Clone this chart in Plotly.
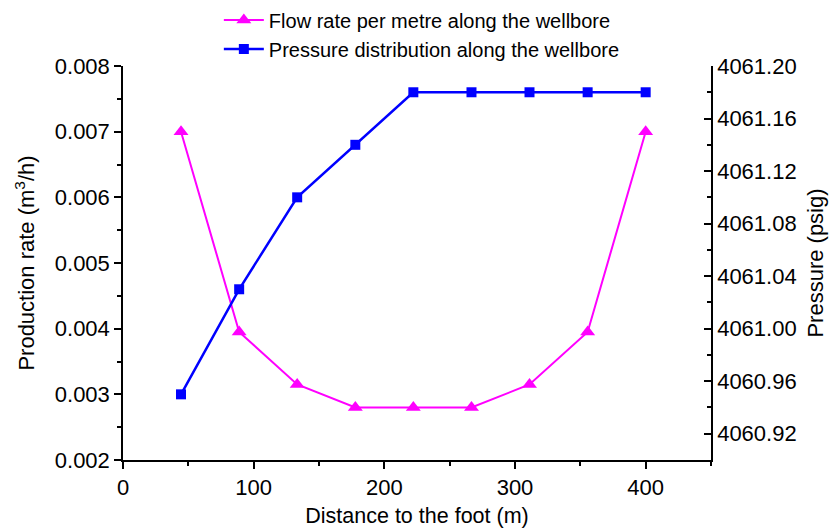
import plotly.graph_objects as go

distance = [44.4, 88.9, 133.3, 177.8, 222.2, 266.7, 311.1, 355.6, 400.0]
flow_rate = [0.0070, 0.00395, 0.00315, 0.0028, 0.0028, 0.0028, 0.00315, 0.00395, 0.0070]
pressure = [4060.95, 4061.03, 4061.10, 4061.14, 4061.18, 4061.18, 4061.18, 4061.18, 4061.18]

x_ticks = [0, 100, 200, 300, 400]
left_ticks = [0.002, 0.003, 0.004, 0.005, 0.006, 0.007, 0.008]
right_ticks = [4060.92, 4060.96, 4061.00, 4061.04, 4061.08, 4061.12, 4061.16, 4061.20]
right_minor = [4060.90, 4060.94, 4060.98, 4061.02, 4061.06, 4061.10, 4061.14, 4061.18]

FONT = "Liberation Sans, Arial, sans-serif"

fig = go.Figure()
fig.add_trace(go.Scatter(
    x=distance, y=flow_rate, name="Flow rate per metre along the wellbore",
    mode="lines+markers",
    line=dict(color="#FF00FF", width=2),
    marker=dict(symbol="triangle-up", size=13, color="#FF00FF"),
    yaxis="y",
))
fig.add_trace(go.Scatter(
    x=distance, y=pressure, name="Pressure distribution along the wellbore",
    mode="lines+markers",
    line=dict(color="#0000FF", width=2.5),
    marker=dict(symbol="square", size=10, color="#0000FF"),
    yaxis="y2",
))

axis_common = dict(
    showline=True, linecolor="black", linewidth=1.5,
    showgrid=False, zeroline=False,
    ticklen=7, tickwidth=1.5, tickcolor="black",
    tickfont=dict(family=FONT, size=22, color="black"),
)

fig.update_layout(
    width=838, height=528,
    margin=dict(l=123, r=127, t=66, b=68, autoexpand=False),
    paper_bgcolor="white", plot_bgcolor="white",
    font=dict(family=FONT, color="black"),
    showlegend=True,
    legend=dict(
        x=0.163, y=1.166, xanchor="left", yanchor="top",
        font=dict(family=FONT, size=20, color="black"),
        bgcolor="rgba(0,0,0,0)", itemwidth=40, tracegroupgap=0,
    ),
    xaxis=dict(
        **axis_common,
        range=[0, 450], tickmode="array", tickvals=x_ticks, ticks="outside",
        minor=dict(tickmode="linear", tick0=0, dtick=50, ticks="outside", ticklen=4, tickcolor="black", tickwidth=1.5),
        title=dict(text="Distance to the foot (m)", font=dict(family=FONT, size=21.5, color="black"), standoff=12),
    ),
    yaxis=dict(
        **axis_common,
        range=[0.002, 0.008], tickmode="array", tickvals=left_ticks, tickformat=".3f", ticks="outside",
        minor=dict(tickmode="linear", tick0=0.0025, dtick=0.001, ticks="outside", ticklen=4, tickcolor="black", tickwidth=1.5),
        title=dict(text="Production rate (m<sup>3</sup>/h)", font=dict(family=FONT, size=22, color="black"), standoff=14),
    ),
    yaxis2=dict(
        **axis_common,
        overlaying="y", side="right", anchor="x",
        range=[4060.90, 4061.20], tickmode="array", tickvals=right_ticks, tickformat=".2f", ticks="inside",
        minor=dict(tickmode="array", tickvals=right_minor, ticks="inside", ticklen=4, tickcolor="black", tickwidth=1.5),
        title=dict(text="Pressure (psig)", font=dict(family=FONT, size=22, color="black"), standoff=12),
    ),
)

fig.write_html("out.html")
